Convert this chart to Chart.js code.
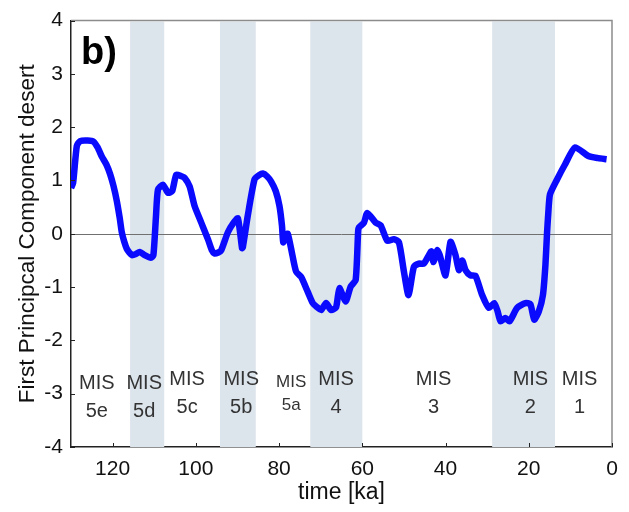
<!DOCTYPE html>
<html lang="en">
<head>
    <meta charset="UTF-8">
    <title>First Principal Component desert</title>
    <style>
        body { margin: 0; background: #ffffff; }
        canvas { display: block; }
    </style>
</head>
<body>
<canvas id="pcChart" width="629" height="512"></canvas>
<script src="https://cdn.jsdelivr.net/npm/chart.js"></script>
<script>
    // time in ka and the first principal component
    const ages = [130.0, 129.5, 128.6, 127.8, 126.0, 124.6, 123.6, 122.6, 121.5, 120.6,
        119.8, 119.0, 118.3, 117.8, 117.2, 116.6, 115.9, 115.4, 114.4, 113.5,
        112.3, 110.8, 110.2, 109.6, 109.1, 107.9, 106.7, 105.7, 104.7, 103.5,
        102.7, 101.5, 100.3, 98.7, 97.1, 96.2, 95.5, 94.6, 93.9, 92.3,
        91.0, 89.9, 88.9, 88.7, 87.5, 85.9, 84.8, 83.9, 82.9, 81.9,
        80.8, 79.9, 79.3, 79.0, 78.5, 77.9, 76.8, 75.9, 74.7, 73.1,
        71.9, 70.8, 69.9, 68.7, 67.5, 66.3, 65.5, 64.0, 62.8, 61.6,
        61.0, 60.8, 59.6, 58.8, 56.8, 55.6, 54.0, 52.4, 51.2, 50.0,
        48.9, 47.6, 46.4, 45.2, 44.0, 43.4, 42.9, 42.0, 41.4, 40.0,
        38.8, 37.6, 36.8, 36.0, 35.2, 34.0, 32.8, 31.2, 29.6, 28.3,
        27.5, 26.8, 25.6, 24.6, 22.8, 20.8, 19.6, 18.7, 17.6, 16.6,
        16.0, 15.6, 15.3, 14.9, 13.2, 11.3, 8.9, 5.7, 3.3, 1.3];
    const pc1 = [0.86, 0.95, 1.65, 1.74, 1.75, 1.73, 1.62, 1.45, 1.30, 1.12,
        0.90, 0.62, 0.30, 0.03, -0.15, -0.28, -0.36, -0.40, -0.38, -0.34,
        -0.40, -0.45, -0.40, 0.30, 0.83, 0.92, 0.77, 0.80, 1.11, 1.08,
        1.05, 0.89, 0.52, 0.21, -0.10, -0.30, -0.37, -0.35, -0.31, 0.03,
        0.20, 0.29, -0.27, -0.25, 0.35, 1.02, 1.10, 1.13, 1.08, 0.98,
        0.80, 0.52, 0.15, -0.16, -0.05, 0.00, -0.40, -0.71, -0.81, -1.09,
        -1.30, -1.38, -1.43, -1.30, -1.43, -1.38, -1.02, -1.27, -0.99, -0.87,
        0.05, 0.12, 0.21, 0.39, 0.21, 0.16, -0.13, -0.10, -0.16, -0.71,
        -1.15, -0.62, -0.56, -0.56, -0.40, -0.33, -0.53, -0.31, -0.40, -0.78,
        -0.15, -0.40, -0.68, -0.50, -0.68, -0.78, -0.79, -1.15, -1.39, -1.30,
        -1.45, -1.64, -1.58, -1.64, -1.39, -1.30, -1.32, -1.61, -1.46, -1.15,
        -0.59, 0.03, 0.40, 0.74, 1.02, 1.30, 1.62, 1.46, 1.42, 1.40];

    // glacial stages (shaded), start and end in ka
    const bandStart = [115.8, 94.2, 72.5, 28.8];
    const bandEnd = [107.6, 85.6, 60.0, 13.7];

    // marine isotope stage labels
    const misNumbers = ['5e', '5d', '5c', '5b', '5a', '4', '3', '2', '1'];
    const misAges = [123.8, 112.4, 102.1, 89.1, 77.1, 66.3, 42.9, 19.6, 7.8];

    const xTicks = [0, 20, 40, 60, 80, 100, 120];

    const font = "'Liberation Sans', Arial, sans-serif";

    const decorations = {
        id: 'decorations',
        beforeDatasetsDraw(chart) {
            const ctx = chart.ctx;
            const area = chart.chartArea;
            const x = chart.scales.x;
            const y = chart.scales.y;
            ctx.save();
            ctx.fillStyle = '#dce4ec';
            for (let i = 0; i < bandStart.length; i++) {
                const a = x.getPixelForValue(bandStart[i]);
                const b = x.getPixelForValue(bandEnd[i]);
                ctx.fillRect(a, area.top + 1, b - a, area.bottom - area.top - 1);
            }
            // zero line
            ctx.strokeStyle = '#707070';
            ctx.lineWidth = 1;
            const y0 = Math.round(y.getPixelForValue(0)) + 0.5;
            ctx.beginPath();
            ctx.moveTo(area.left, y0);
            ctx.lineTo(area.right, y0);
            ctx.stroke();

            // MIS labels
            ctx.fillStyle = '#333333';
            ctx.textAlign = 'center';
            ctx.textBaseline = 'middle';
            for (let i = 0; i < misNumbers.length; i++) {
                const px = x.getPixelForValue(misAges[i]);
                const small = misNumbers[i] === '5a';
                const low = (misNumbers[i] === '5e' || misNumbers[i] === '5d') ? 4 : 0;
                ctx.font = (small ? '17px ' : '20px ') + font;
                ctx.fillText('MIS', px, y.getPixelForValue(-2.74) + low + (small ? 2 : 0));
                ctx.fillText(misNumbers[i], px, y.getPixelForValue(-3.25) + low + (small ? -2 : 0));
            }
            ctx.restore();
        },
        afterDraw(chart) {
            const ctx = chart.ctx;
            const area = chart.chartArea;
            const x = chart.scales.x;
            const y = chart.scales.y;
            ctx.save();
            // top and right frame
            ctx.strokeStyle = '#8c8c8c';
            ctx.lineWidth = 1.5;
            ctx.beginPath();
            ctx.moveTo(area.left, area.top);
            ctx.lineTo(area.right, area.top);
            ctx.lineTo(area.right, area.bottom);
            ctx.stroke();
            // inside ticks
            ctx.strokeStyle = '#222222';
            ctx.lineWidth = 1;
            ctx.beginPath();
            xTicks.forEach(v => {
                const px = Math.round(x.getPixelForValue(v)) + 0.5;
                ctx.moveTo(px, area.bottom);
                ctx.lineTo(px, area.bottom - 4);
            });
            for (let v = -4; v <= 4; v++) {
                const py = Math.round(y.getPixelForValue(v)) + 0.5;
                ctx.moveTo(area.left, py);
                ctx.lineTo(area.left + 4, py);
            }
            ctx.stroke();
            // panel letter
            ctx.fillStyle = '#000000';
            ctx.font = 'bold 38px ' + font;
            ctx.textAlign = 'left';
            ctx.textBaseline = 'alphabetic';
            ctx.fillText('b)', area.left + 10, area.top + 43);
            ctx.restore();
        }
    };

    new Chart(document.getElementById('pcChart'), {
        type: 'line',
        data: {
            datasets: [{
                label: 'First Principcal Component desert',
                data: ages.map((a, i) => ({ x: a, y: pc1[i] })),
                borderColor: '#0a0aff',
                borderWidth: 6.5,
                pointRadius: 0,
                tension: 0.2,
                fill: false
            }]
        },
        options: {
            responsive: false,
            animation: false,
            layout: { padding: { left: 0, top: 15, right: 17, bottom: 0 } },
            plugins: {
                legend: { display: false },
                tooltip: { enabled: false }
            },
            scales: {
                x: {
                    type: 'linear',
                    reverse: true,
                    min: 0,
                    max: 130,
                    afterFit: s => { s.height = 65; },
                    afterBuildTicks: s => { s.ticks = xTicks.map(v => ({ value: v })); },
                    grid: { display: true, drawOnChartArea: false, drawTicks: false },
                    border: { display: true, color: '#222222', width: 1.5 },
                    ticks: {
                        padding: 10,
                        color: '#111111',
                        font: { family: font, size: 21 }
                    },
                    title: {
                        display: true,
                        text: 'time [ka]',
                        color: '#111111',
                        padding: { top: 0, bottom: 6 },
                        font: { family: font, size: 23 }
                    }
                },
                y: {
                    min: -4,
                    max: 4,
                    afterFit: s => { s.width = 71; },
                    grid: { display: true, drawOnChartArea: false, drawTicks: false },
                    border: { display: true, color: '#222222', width: 1.5 },
                    ticks: {
                        stepSize: 1,
                        padding: 8,
                        color: '#111111',
                        font: { family: font, size: 21 }
                    },
                    title: {
                        display: true,
                        text: 'First Principcal Component desert',
                        color: '#111111',
                        padding: { top: 14, bottom: 0 },
                        font: { family: font, size: 22.5 }
                    }
                }
            }
        },
        plugins: [decorations]
    });
</script>
</body>
</html>
